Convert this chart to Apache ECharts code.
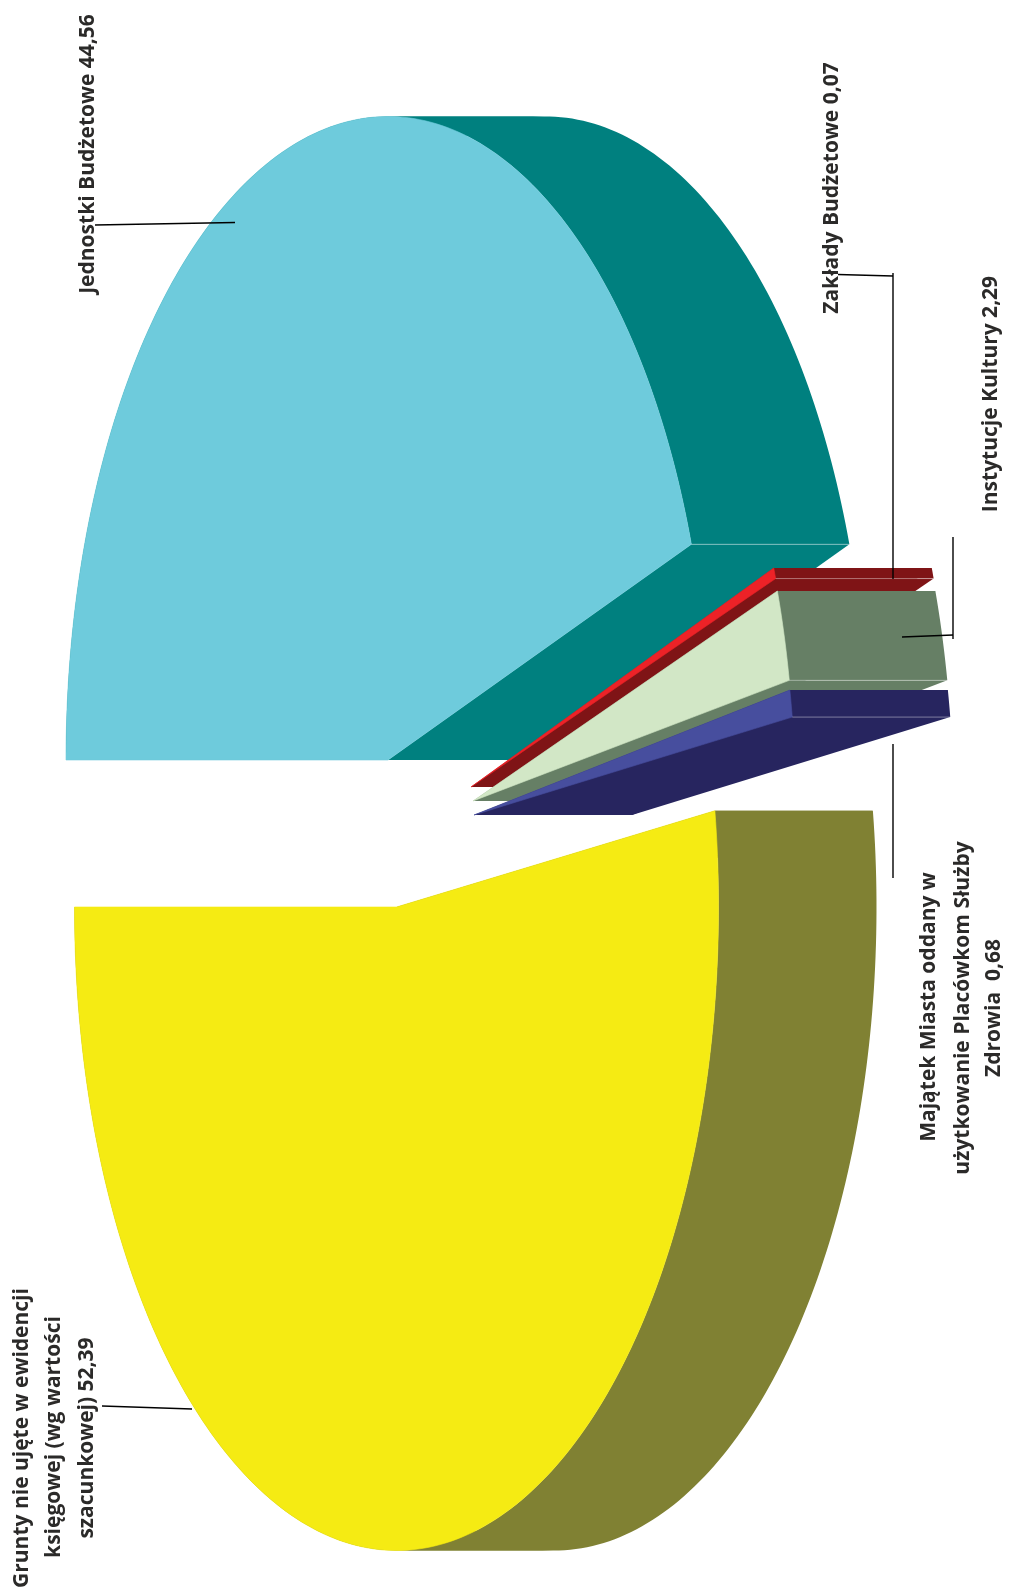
<!DOCTYPE html>
<html>
<head>
<meta charset="utf-8">
<style>html,body{margin:0;padding:0;background:#fff}#chart{width:1010px;height:1592px}</style>
<script src="https://cdn.jsdelivr.net/npm/echarts@6/dist/echarts.min.js"></script>
</head>
<body>
<div id="chart"></div>
<script>
// Data (percent shares)
const sliceNames = ['Jednostki Budżetowe', 'Zakłady Budżetowe', 'Instytucje Kultury', 'Majątek Miasta oddany w użytkowanie Placówkom Służby Zdrowia', 'Grunty nie ujęte w ewidencji księgowej (wg wartości szacunkowej)'];
const sliceValues = [44.56, 0.07, 2.29, 0.68, 52.39];

// Styling and layout of the exploded, squashed 3D pie
const topColors = ['#6ecbdc', '#ed2227', '#d2e7c6', '#474e9e', '#f5eb13'];
const sideColors = ['#00807f', '#7f1416', '#667f65', '#27255f', '#808133'];
const sliceCentersX = [388, 471, 473, 474, 396.5];
const sliceCentersY = [760, 787, 801, 815, 907];
const sliceStartDeg = [180, 19.9, 19.05, 11.2, 180];
const sliceDirection = [-1, -1, -1, -1, 1];
const sliceEdgeLine = [true, true, true, true, false];
const radiusX = 322, radiusY = 643.5, depth = 158, minSweepDeg = 1;

// Labels: one entry per text line
const labelLines = ['Jednostki Budżetowe 44,56', 'Zakłady Budżetowe 0,07', 'Instytucje Kultury 2,29',
  'Majątek Miasta oddany w', 'użytkowanie Placówkom Służby', 'Zdrowia  0,68',
  'Grunty nie ujęte w ewidencji', 'księgowej (wg wartości', 'szacunkowej) 52,39'];
const labelX = [88, 832, 991, 929, 963, 994, 22, 54, 87];
const labelY = [154, 188, 394, 1007, 1008, 1008, 1438, 1437, 1438];
const leaderLines = [
  [[95, 225], [235, 222.5]],
  [[838, 274.5], [893, 276]],
  [[893, 273], [893, 579]],
  [[953, 537], [953, 639]],
  [[902, 637], [953, 635]],
  [[893, 744], [893, 878]],
  [[102, 1406], [192, 1409]]
];

const fontFamily = '"Open Sans", sans-serif';
const chart = echarts.init(document.getElementById('chart'), null, { renderer: 'canvas' });

function renderSlice(params, api) {
  const i = api.value(0);
  const value = api.value(1);
  const cx = sliceCentersX[i], cy = sliceCentersY[i];
  const sweep = Math.max(value / 100 * 360, minSweepDeg);
  const start = sliceStartDeg[i], dir = sliceDirection[i];
  const n = Math.max(4, Math.ceil(sweep));
  const pointAt = deg => {
    const t = deg * Math.PI / 180;
    return [cx + radiusX * Math.cos(t), cy - radiusY * Math.sin(t)];
  };
  // Walk the arc; break the rim at the ellipse's top and bottom so each rim part is a simple shape.
  const runs = [[pointAt(start)]];
  for (let k = 1; k <= n; k++) {
    const a0 = start + dir * sweep * (k - 1) / n, a1 = start + dir * sweep * k / n;
    [90, 270].forEach(e => {
      if ((a0 - e) * (a1 - e) < 0) {
        const p = pointAt(e);
        runs[runs.length - 1].push(p);
        runs.push([p]);
      }
    });
    runs[runs.length - 1].push(pointAt(a1));
  }
  const arc = runs.reduce((acc, r) => acc.concat(r), []);
  const shift = p => [p[0] + depth, p[1]];
  const toPx = pts => pts.map(p => api.coord(p));
  const centre = [cx, cy];
  const last = arc[arc.length - 1];
  const side = sideColors[i];
  const poly = (pts, fill, width) => ({ type: 'polygon', shape: { points: toPx(pts) },
    style: width ? { fill: fill, stroke: fill, lineWidth: width } : { fill: fill } });
  const children = [
    poly([centre, arc[0], shift(arc[0]), shift(centre)], side, 0),
    poly([centre, last, shift(last), shift(centre)], side, 0)
  ];
  runs.forEach(r => children.push(poly(r.concat(r.map(shift).reverse()), side, 0)));
  children.push(poly([centre].concat(arc), topColors[i], 0.6));
  if (sliceEdgeLine[i]) {
    const a = api.coord(last), b = api.coord(shift(last));
    children.push({ type: 'line', shape: { x1: a[0], y1: a[1], x2: b[0], y2: b[1] },
      style: { stroke: 'rgba(255,255,255,0.4)', lineWidth: 1 } });
  }
  return { type: 'group', children: children };
}

const textElements = labelLines.map((t, i) => ({
  type: 'text', x: labelX[i], y: labelY[i], rotation: Math.PI / 2, z: 10,
  style: { text: t, x: 0, y: 0, align: 'center', verticalAlign: 'middle', fill: '#2b2a29', font: 'bold 21px ' + fontFamily }
}));
const lineElements = leaderLines.map(l => ({
  type: 'line', z: 11,
  shape: { x1: l[0][0], y1: l[0][1], x2: l[1][0], y2: l[1][1] },
  style: { stroke: '#000', lineWidth: 1.4 }
}));

chart.setOption({
  animation: false,
  backgroundColor: '#ffffff',
  grid: { left: 0, right: 0, top: 0, bottom: 0 },
  xAxis: { type: 'value', min: 0, max: 1010, show: false },
  yAxis: { type: 'value', min: 0, max: 1592, inverse: true, show: false },
  series: [{
    type: 'custom',
    clip: false,
    renderItem: renderSlice,
    encode: { x: 0, y: 1 },
    data: sliceValues.map((v, i) => ({ name: sliceNames[i], value: [i, v] }))
  }],
  graphic: { elements: textElements.concat(lineElements) }
});
</script>
</body>
</html>
